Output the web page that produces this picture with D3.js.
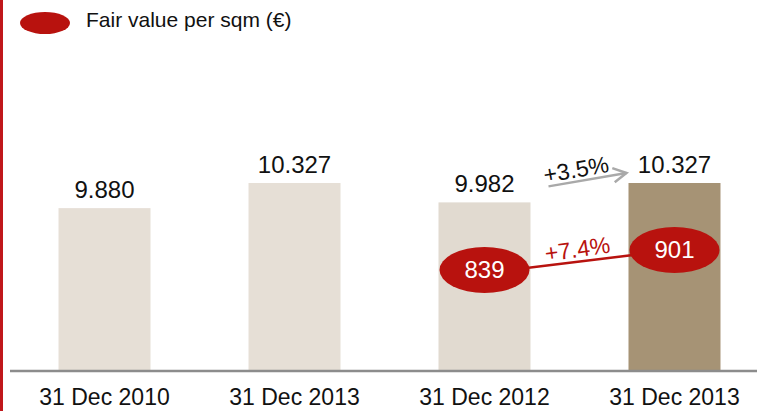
<!DOCTYPE html>
<html>
<head>
<meta charset="utf-8">
<script src="https://cdn.jsdelivr.net/npm/d3@7"></script>
<style>
  body { margin: 0; background: #fff; }
  svg { display: block; font-family: "Liberation Sans", Arial, sans-serif; }
</style>
</head>
<body>
<svg id="chart" width="757" height="411"></svg>
<script>
const categories = ['31 Dec 2010', '31 Dec 2013', '31 Dec 2012', '31 Dec 2013'];
const totalValues = [9880, 10327, 9982, 10327];
const totalLabels = ['9.880', '10.327', '9.982', '10.327'];
const barColors = ['#e6dfd6', '#e6dfd6', '#e1dad0', '#a69375'];
const sqmIndex = [2, 3];
const sqmValues = [839, 901];
const sqmChange = '+7.4%';
const totalChange = '+3.5%';

const width = 757;
const height = 411;
const baseY = 370;

const svg = d3.select('#chart');

const xScale = d3.scaleBand()
    .domain(d3.range(categories.length))
    .range([10, 769])
    .paddingInner(0.5158)
    .paddingOuter(0.2553);

// value axis does not start at zero in the original
const yScale = d3.scaleLinear()
    .domain([7000, 10327])
    .range([baseY, 183]);

const sqmScale = d3.scaleLinear()
    .domain([839, 901])
    .range([270, 250]);

const cx = (i) => xScale(i) + xScale.bandwidth() / 2;

// bars
svg.selectAll('rect.bar')
    .data(totalValues)
    .enter()
    .append('rect')
    .attr('class', 'bar')
    .attr('x', (d, i) => xScale(i))
    .attr('y', (d) => yScale(d))
    .attr('width', xScale.bandwidth())
    .attr('height', (d) => baseY - yScale(d))
    .attr('fill', (d, i) => barColors[i]);

// bar labels
svg.selectAll('text.val')
    .data(totalValues)
    .enter()
    .append('text')
    .attr('class', 'val')
    .attr('x', (d, i) => cx(i))
    .attr('y', (d) => yScale(d) - 10)
    .attr('text-anchor', 'middle')
    .attr('font-size', 24)
    .attr('fill', '#111')
    .text((d, i) => totalLabels[i]);

// baseline + left red rule
svg.append('line')
    .attr('x1', 10).attr('x2', width)
    .attr('y1', baseY + 1).attr('y2', baseY + 1)
    .attr('stroke', '#8c8c8c')
    .attr('stroke-width', 2.5);

svg.append('line')
    .attr('x1', 1.5).attr('x2', 1.5)
    .attr('y1', 0).attr('y2', height)
    .attr('stroke', '#c0171b')
    .attr('stroke-width', 3);

// category labels
svg.selectAll('text.cat')
    .data(categories)
    .enter()
    .append('text')
    .attr('class', 'cat')
    .attr('x', (d, i) => cx(i))
    .attr('y', 405)
    .attr('text-anchor', 'middle')
    .attr('font-size', 23)
    .attr('fill', '#111')
    .text((d) => d);

// growth arrow for totals
const a0 = [cx(sqmIndex[0]) + 64, yScale(totalValues[2]) - 16];
const a1 = [xScale(sqmIndex[1]) - 2, yScale(totalValues[3]) - 10];
svg.append('line')
    .attr('x1', a0[0]).attr('y1', a0[1])
    .attr('x2', a1[0]).attr('y2', a1[1])
    .attr('stroke', '#a9a9a9')
    .attr('stroke-width', 2.5);
const ang = Math.atan2(a1[1] - a0[1], a1[0] - a0[0]);
const head = 15;
svg.append('polyline')
    .attr('points', [
        [a1[0] - head * Math.cos(ang - 0.5), a1[1] - head * Math.sin(ang - 0.5)],
        a1,
        [a1[0] - head * Math.cos(ang + 0.5), a1[1] - head * Math.sin(ang + 0.5)],
    ].map((p) => p.join(',')).join(' '))
    .attr('fill', 'none')
    .attr('stroke', '#a9a9a9')
    .attr('stroke-width', 2.5);
svg.append('text')
    .attr('transform', `translate(${(a0[0] + a1[0]) / 2 - 10},${a0[1] - 9}) rotate(-10)`)
    .attr('text-anchor', 'middle')
    .attr('font-size', 23)
    .attr('fill', '#111')
    .text(totalChange);

// fair value per sqm connector
const p0 = [cx(sqmIndex[0]), sqmScale(sqmValues[0])];
const p1 = [cx(sqmIndex[1]), sqmScale(sqmValues[1])];
svg.append('line')
    .attr('x1', p0[0]).attr('y1', p0[1] + 3)
    .attr('x2', p1[0]).attr('y2', p1[1])
    .attr('stroke', '#b8120e')
    .attr('stroke-width', 2.5);
const slope = Math.atan2(p1[1] - p0[1], p1[0] - p0[0]) * 180 / Math.PI;
svg.append('text')
    .attr('transform', `translate(${(p0[0] + p1[0]) / 2 - 1},${(p0[1] + p1[1]) / 2 - 3}) rotate(${slope - 2})`)
    .attr('text-anchor', 'middle')
    .attr('font-size', 23)
    .attr('fill', '#b8120e')
    .text(sqmChange);

// ellipses
const ell = svg.selectAll('g.sqm')
    .data(sqmValues)
    .enter()
    .append('g')
    .attr('class', 'sqm')
    .attr('transform', (d, i) => `translate(${cx(sqmIndex[i])},${sqmScale(d)})`);
ell.append('ellipse')
    .attr('rx', 45)
    .attr('ry', 23)
    .attr('fill', '#b8120e');
ell.append('text')
    .attr('y', 8)
    .attr('text-anchor', 'middle')
    .attr('font-size', 24)
    .attr('fill', '#fff')
    .text((d) => d);

// legend
svg.append('ellipse')
    .attr('cx', 45).attr('cy', 23)
    .attr('rx', 25).attr('ry', 11)
    .attr('fill', '#b8120e');
svg.append('text')
    .attr('x', 86).attr('y', 27)
    .attr('font-size', 21)
    .attr('fill', '#111')
    .text('Fair value per sqm (€)');
</script>
</body>
</html>
